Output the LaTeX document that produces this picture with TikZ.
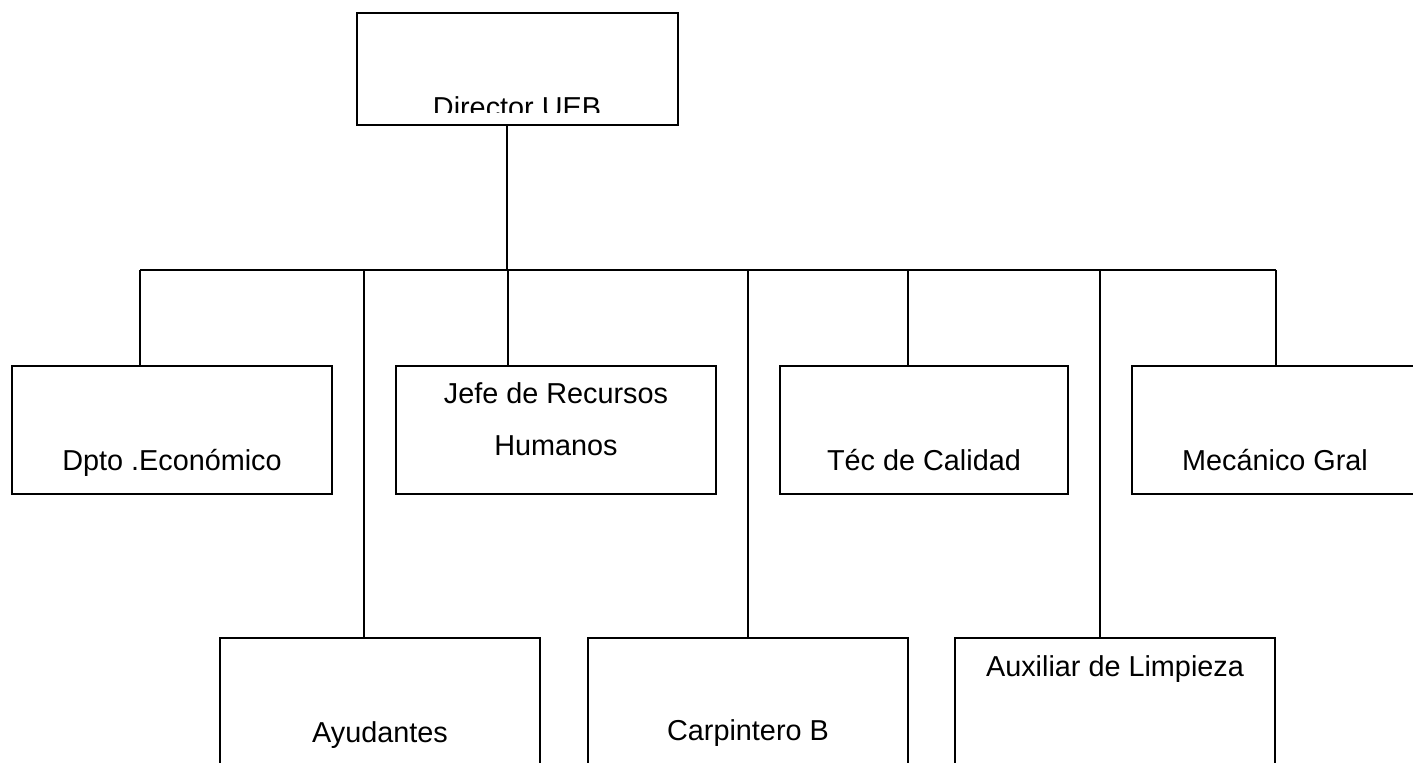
\documentclass[tikz,border=0pt]{standalone}
\usepackage{fontspec}
\setmainfont{Liberation Sans}
\usetikzlibrary{positioning}

\begin{document}
\begin{tikzpicture}[x=0.02cm, y=-0.02cm]
		\tikzstyle{every node}=[font=\fontsize{16.4}{20}\selectfont]
		\tikzstyle{box}=[draw, line width=0.8pt, rectangle, inner sep=0pt, minimum height=2.56cm]
		\tikzstyle{lbl}=[anchor=base, inner sep=0pt]
		\clip (0,0) rectangle (1413,763);
		% boxes
		\node [box, minimum width=6.42cm, minimum height=2.24cm] (director) at (517.5,69) {};
		\node [box, minimum width=6.4cm] (dpto) at (172,430) {};
		\node [box, minimum width=6.4cm] (jefe) at (556,430) {};
		\node [box, minimum width=5.76cm] (tec) at (924,430) {};
		\node [box, minimum width=5.76cm] (mec) at (1276,430) {};
		\node [box, minimum width=6.4cm, minimum height=3.2cm] (ayud) at (380,718) {};
		\node [box, minimum width=6.4cm, minimum height=3.2cm] (carp) at (748,718) {};
		\node [box, minimum width=6.4cm, minimum height=3.2cm] (aux) at (1115,718) {};
		% texts
		\begin{scope}
			\clip (357,13) rectangle (678,113);
			\node [lbl] (directorT) at (517,118) {Director UEB};
		\end{scope}
		\node [lbl] (dptoT) at (172,470) {Dpto .Económico};
		\node [lbl] (jefeT) at (556,403) {Jefe de Recursos};
		\node [lbl] (jefeU) at (556,455) {Humanos};
		\node [lbl] (tecT) at (924,470) {Téc de Calidad};
		\node [lbl] (mecT) at (1275,470) {Mecánico Gral};
		\node [lbl] (ayudT) at (380,742) {Ayudantes};
		\node [lbl] (carpT) at (748,740) {Carpintero B};
		\node [lbl] (auxT) at (1115,676) {Auxiliar de Limpieza};
		% bar
		\coordinate (b0) at (507,270);
		\coordinate (b1) at (140,270);
		\coordinate (b2) at (364,270);
		\coordinate (b3) at (508,270);
		\coordinate (b4) at (748,270);
		\coordinate (b5) at (908,270);
		\coordinate (b6) at (1100,270);
		\coordinate (b7) at (1276,270);
		\draw [line width=0.8pt] (director.south -| b0) -- (b0);
		\draw [line width=0.8pt] (b1) -- (b7);
		\draw [line width=0.8pt] (b1) -- (b1 |- dpto.north);
		\draw [line width=0.8pt] (b2) -- (b2 |- ayud.north);
		\draw [line width=0.8pt] (b3) -- (b3 |- jefe.north);
		\draw [line width=0.8pt] (b4) -- (b4 |- carp.north);
		\draw [line width=0.8pt] (b5) -- (b5 |- tec.north);
		\draw [line width=0.8pt] (b6) -- (b6 |- aux.north);
		\draw [line width=0.8pt] (b7) -- (b7 |- mec.north);
	\end{tikzpicture}
\end{document}
